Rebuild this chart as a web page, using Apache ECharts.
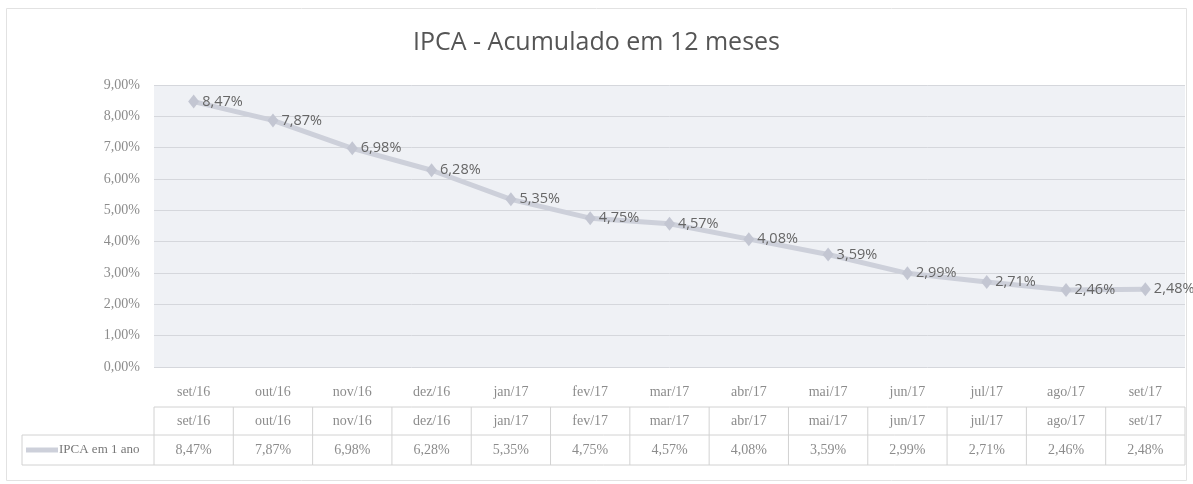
<!DOCTYPE html>
<html>
<head>
<meta charset="utf-8">
<script src="https://cdn.jsdelivr.net/npm/echarts@6/dist/echarts.min.js"></script>
<style>
  html, body { margin: 0; padding: 0; background: #fff; }
  #main { width: 1193px; height: 484px; }
</style>
</head>
<body>
<div id="main"></div>
<script>
// dados do IPCA acumulado em 12 meses
var meses = ['set/16', 'out/16', 'nov/16', 'dez/16', 'jan/17', 'fev/17', 'mar/17',
             'abr/17', 'mai/17', 'jun/17', 'jul/17', 'ago/17', 'set/17'];
var ipca = [8.47, 7.87, 6.98, 6.28, 5.35, 4.75, 4.57, 4.08, 3.59, 2.99, 2.71, 2.46, 2.48];
var nomeSerie = 'IPCA em 1 ano';
var titulo = 'IPCA - Acumulado em 12 meses';

function fmt(v) {
    return v.toFixed(2).replace('.', ',') + '%';
}

var corLinha = '#cdd0da';
var serif = '"Liberation Serif", "DejaVu Serif", serif';
var sans = '"Open Sans", "Noto Sans", sans-serif';

var myChart = echarts.init(document.getElementById('main'));

var option = {
    backgroundColor: '#fff',
    animation: false,
    title: {
        text: titulo,
        left: 'center',
        top: 25,
        textStyle: { color: '#555', fontSize: 25, fontWeight: 'normal', fontFamily: sans }
    },
    grid: {
        left: 154, right: 8, top: 85, bottom: 117,
        show: true,
        backgroundColor: '#eff1f5',
        borderWidth: 0
    },
    xAxis: {
        type: 'category',
        data: meses,
        boundaryGap: true,
        axisLine: { show: false },
        axisTick: { show: false },
        axisLabel: { color: '#8c8c8c', fontSize: 14, fontFamily: serif, margin: 18 }
    },
    yAxis: {
        type: 'value',
        min: 0, max: 9, interval: 1,
        axisLine: { show: false },
        axisTick: { show: false },
        splitLine: { lineStyle: { color: '#d5d7dc', width: 1 } },
        axisLabel: {
            color: '#8c8c8c', fontSize: 14, fontFamily: serif, margin: 14,
            formatter: function (v) { return fmt(v); }
        }
    },
    series: [{
        name: nomeSerie,
        type: 'line',
        data: ipca,
        symbol: 'diamond',
        symbolSize: [11, 14],
        lineStyle: { color: corLinha, width: 5 },
        itemStyle: { color: '#c3c6d2' },
        label: {
            show: true,
            position: 'right',
            distance: 3,
            color: '#666',
            fontSize: 14.5,
            fontFamily: sans,
            formatter: function (p) { return fmt(p.value); }
        }
    }]
};
myChart.setOption(option);

// tabela de dados abaixo do grafico
function montaTabela() {
    var g = [];
    var passo = myChart.convertToPixel({ xAxisIndex: 0 }, 1) - myChart.convertToPixel({ xAxisIndex: 0 }, 0);
    var x0 = myChart.convertToPixel({ xAxisIndex: 0 }, 0) - passo / 2;
    var xN = x0 + passo * meses.length;
    var yTop = 407, yMid = 435, yBot = 465;
    var legL = 22;
    var borda = { stroke: '#d2d2d2', lineWidth: 1 };

    // bordas horizontais
    g.push({ type: 'line', shape: { x1: x0, y1: yTop, x2: xN, y2: yTop }, style: borda });
    g.push({ type: 'line', shape: { x1: legL, y1: yMid, x2: xN, y2: yMid }, style: borda });
    g.push({ type: 'line', shape: { x1: legL, y1: yBot, x2: xN, y2: yBot }, style: borda });
    g.push({ type: 'line', shape: { x1: legL, y1: yMid, x2: legL, y2: yBot }, style: borda });
    for (var i = 0; i <= meses.length; i++) {
        var x = x0 + passo * i;
        g.push({ type: 'line', shape: { x1: x, y1: yTop, x2: x, y2: yBot }, style: borda });
    }
    for (var j = 0; j < meses.length; j++) {
        var cx = myChart.convertToPixel({ xAxisIndex: 0 }, j);
        g.push({ type: 'text', x: cx, y: (yTop + yMid) / 2,
            style: { text: meses[j], fill: '#8c8c8c', font: '14px ' + serif, align: 'center', verticalAlign: 'middle' } });
        g.push({ type: 'text', x: cx, y: (yMid + yBot) / 2,
            style: { text: fmt(ipca[j]), fill: '#8c8c8c', font: '14px ' + serif, align: 'center', verticalAlign: 'middle' } });
    }
    // legenda
    var ly = (yMid + yBot) / 2;
    g.push({ type: 'line', shape: { x1: legL + 4, y1: ly, x2: legL + 36, y2: ly }, style: { stroke: corLinha, lineWidth: 5 } });
    g.push({ type: 'text', x: legL + 37, y: ly,
        style: { text: nomeSerie, fill: '#777', font: '13px ' + serif, align: 'left', verticalAlign: 'middle' } });
    // moldura externa
    g.push({ type: 'rect', shape: { x: 6.5, y: 8.5, width: 1180, height: 472 },
        style: { fill: 'none', stroke: '#e2e2e2', lineWidth: 1 }, z: -1 });

    myChart.setOption({ graphic: g });
}
montaTabela();
</script>
</body>
</html>
